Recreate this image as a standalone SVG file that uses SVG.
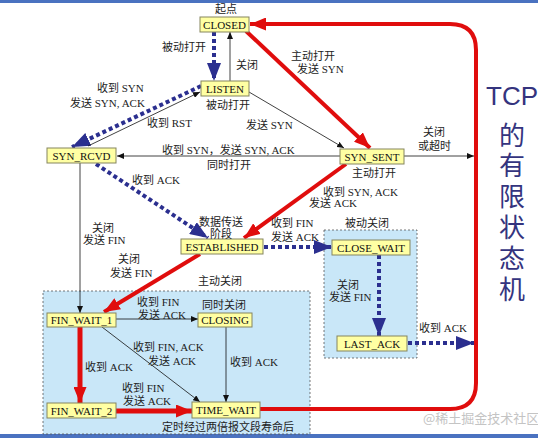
<svg xmlns="http://www.w3.org/2000/svg" width="538" height="438" viewBox="0 0 538 438">
<defs>
<marker id="mk" markerUnits="userSpaceOnUse" markerWidth="7" markerHeight="6" refX="7" refY="3" orient="auto"><path d="M0,0 L7,3 L0,6 z" fill="#111"/></marker>
<marker id="mr" markerUnits="userSpaceOnUse" markerWidth="16" markerHeight="13" refX="16" refY="6.5" orient="auto"><path d="M0,0 L16,6.5 L0,13 z" fill="#e00d0d"/></marker>
<marker id="mb" markerUnits="userSpaceOnUse" markerWidth="18" markerHeight="14" refX="18" refY="7" orient="auto"><path d="M0,0 L18,7 L0,14 z" fill="#2b2f8f"/></marker>
</defs>
<style>
.nd rect{fill:#ffffa3;stroke:#85855f;stroke-width:1}
.nd text{font-family:"Liberation Serif","Noto Sans CJK SC",serif;font-size:11px;fill:#111;text-anchor:middle}
.lb{font-family:"Liberation Serif","Noto Sans CJK SC",serif;font-size:11px;fill:#222}
.thin{stroke:#111;stroke-width:0.8;fill:none;marker-end:url(#mk)}
.red{stroke:#e00d0d;stroke-width:4;fill:none;marker-end:url(#mr)}
.blu{stroke:#2b2f8f;stroke-width:4;stroke-dasharray:4 3;fill:none;marker-end:url(#mb)}
.rg{fill:#c9e7f8;stroke:#555;stroke-width:0.8;stroke-dasharray:2 2}
.tt{font-family:"Liberation Sans","Noto Sans CJK SC",sans-serif;font-size:26px;fill:#34347e;text-anchor:middle}
</style>
<rect x="0" y="0" width="538" height="438" fill="#fff"/>
<rect x="0" y="0" width="538" height="3" fill="#4a72c0"/>
<rect x="0" y="434" width="538" height="4" fill="#4a72c0"/>
<g id="regions">
<rect class="rg" x="43" y="291" width="267" height="143"/>
<rect class="rg" x="324" y="230" width="93" height="128"/>
</g>
<g id="connectors">
<line class="blu" x1="214" y1="32" x2="214" y2="81"/>
<line class="thin" x1="230" y1="81" x2="230" y2="32"/>
<line class="red" x1="246" y1="31" x2="370" y2="148"/>
<line class="thin" x1="249" y1="92" x2="344" y2="148"/>
<line class="blu" x1="201" y1="86" x2="72" y2="147"/>
<line class="thin" x1="88" y1="146" x2="200" y2="92"/>
<line class="thin" x1="340" y1="156" x2="117" y2="156"/>
<line class="thin" x1="404" y1="156" x2="474" y2="156"/>
<line class="blu" x1="96" y1="164" x2="208" y2="238"/>
<line class="red" x1="346" y1="164" x2="244" y2="238"/>
<line class="thin" x1="80" y1="163" x2="80" y2="313"/>
<line class="red" x1="200" y1="254" x2="104" y2="312"/>
<line class="blu" x1="264" y1="247" x2="332" y2="247"/>
<line class="blu" x1="379" y1="255" x2="379" y2="336"/>
<line class="blu" x1="408" y1="343" x2="474" y2="343"/>
<line class="thin" x1="116" y1="319" x2="198" y2="319"/>
<line class="red" style="stroke-width:5" x1="80" y1="327" x2="80" y2="403"/>
<line class="thin" x1="102" y1="327" x2="200" y2="402"/>
<line class="thin" x1="226" y1="327" x2="226" y2="402"/>
<line class="red" style="stroke-width:5" x1="116" y1="411" x2="192" y2="411"/>
<path class="red" d="M260,409 L450,409 Q476,409 476,383 L476,50 Q476,24 450,24 L250,24"/>
</g>
<g id="CLOSED" class="nd"><rect x="200" y="17" width="49" height="15"/><text x="224.5" y="28.5">CLOSED</text></g>
<g id="LISTEN" class="nd"><rect x="201" y="81" width="48" height="15"/><text x="225" y="92.5">LISTEN</text></g>
<g id="SYN_RCVD" class="nd"><rect x="47" y="148" width="69" height="15"/><text x="81.5" y="159.5">SYN_RCVD</text></g>
<g id="SYN_SENT" class="nd"><rect x="340" y="149" width="64" height="15"/><text x="372" y="160.5">SYN_SENT</text></g>
<g id="ESTABLISHED" class="nd"><rect x="181" y="239" width="82" height="15"/><text x="222" y="250.5">ESTABLISHED</text></g>
<g id="CLOSE_WAIT" class="nd"><rect x="332" y="240" width="78" height="15"/><text x="371" y="251.5">CLOSE_WAIT</text></g>
<g id="FIN_WAIT_1" class="nd"><rect x="47" y="313" width="69" height="14"/><text x="81.5" y="324">FIN_WAIT_1</text></g>
<g id="CLOSING" class="nd"><rect x="198" y="313" width="54" height="14"/><text x="225" y="324">CLOSING</text></g>
<g id="LAST_ACK" class="nd"><rect x="337" y="336" width="70" height="15"/><text x="372" y="347.5">LAST_ACK</text></g>
<g id="FIN_WAIT_2" class="nd"><rect x="47" y="403" width="69" height="15"/><text x="81.5" y="414.5">FIN_WAIT_2</text></g>
<g id="TIME_WAIT" class="nd"><rect x="192" y="402" width="68" height="16"/><text x="226" y="414">TIME_WAIT</text></g>
<g id="labels">
<text class="lb" x="226" y="13" text-anchor="middle">起点</text>
<text class="lb" x="162" y="51">被动打开</text>
<text class="lb" x="236" y="69">关闭</text>
<text class="lb" x="291" y="60">主动打开</text>
<text class="lb" x="297" y="73">发送 SYN</text>
<text class="lb" x="97" y="92">收到 SYN</text>
<text class="lb" x="70" y="107">发送 SYN, ACK</text>
<text class="lb" x="206" y="109">被动打开</text>
<text class="lb" x="147" y="127">收到 RST</text>
<text class="lb" x="246" y="129">发送 SYN</text>
<text class="lb" x="162" y="154">收到 SYN，发送 SYN, ACK</text>
<text class="lb" x="207" y="169">同时打开</text>
<text class="lb" x="423" y="136">关闭</text>
<text class="lb" x="418" y="150">或超时</text>
<text class="lb" x="352" y="177">主动打开</text>
<text class="lb" x="132" y="184">收到 ACK</text>
<text class="lb" x="323" y="196">收到 SYN, ACK</text>
<text class="lb" x="309" y="207">发送 ACK</text>
<text class="lb" x="199" y="226">数据传送</text>
<text class="lb" x="210" y="238">阶段</text>
<text class="lb" x="271" y="227">收到 FIN</text>
<text class="lb" x="271" y="241">发送 ACK</text>
<text class="lb" x="345" y="227">被动关闭</text>
<text class="lb" x="92" y="232">关闭</text>
<text class="lb" x="83" y="244">发送 FIN</text>
<text class="lb" x="118" y="263">关闭</text>
<text class="lb" x="110" y="277">发送 FIN</text>
<text class="lb" x="198" y="285">主动关闭</text>
<text class="lb" x="337" y="289">关闭</text>
<text class="lb" x="329" y="301">发送 FIN</text>
<text class="lb" x="137" y="306">收到 FIN</text>
<text class="lb" x="138" y="319">发送 ACK</text>
<text class="lb" x="202" y="309">同时关闭</text>
<text class="lb" x="419" y="332">收到 ACK</text>
<text class="lb" x="133" y="351">收到 FIN, ACK</text>
<text class="lb" x="148" y="365">发送 ACK</text>
<text class="lb" x="85" y="371">收到 ACK</text>
<text class="lb" x="230" y="366">收到 ACK</text>
<text class="lb" x="122" y="392">收到 FIN</text>
<text class="lb" x="123" y="405">发送 ACK</text>
<text class="lb" x="162" y="431">定时经过两倍报文段寿命后</text>
</g>
<g id="title">
<text class="tt" x="512" y="105">TCP</text>
<text class="tt" x="512" y="145">的</text>
<text class="tt" x="512" y="175">有</text>
<text class="tt" x="512" y="206">限</text>
<text class="tt" x="512" y="237">状</text>
<text class="tt" x="512" y="268">态</text>
<text class="tt" x="512" y="299">机</text>
</g>
<text x="423" y="423" font-family="Noto Sans CJK SC, sans-serif" font-size="13" fill="#c4c4c4">@稀土掘金技术社区</text>
</svg>
